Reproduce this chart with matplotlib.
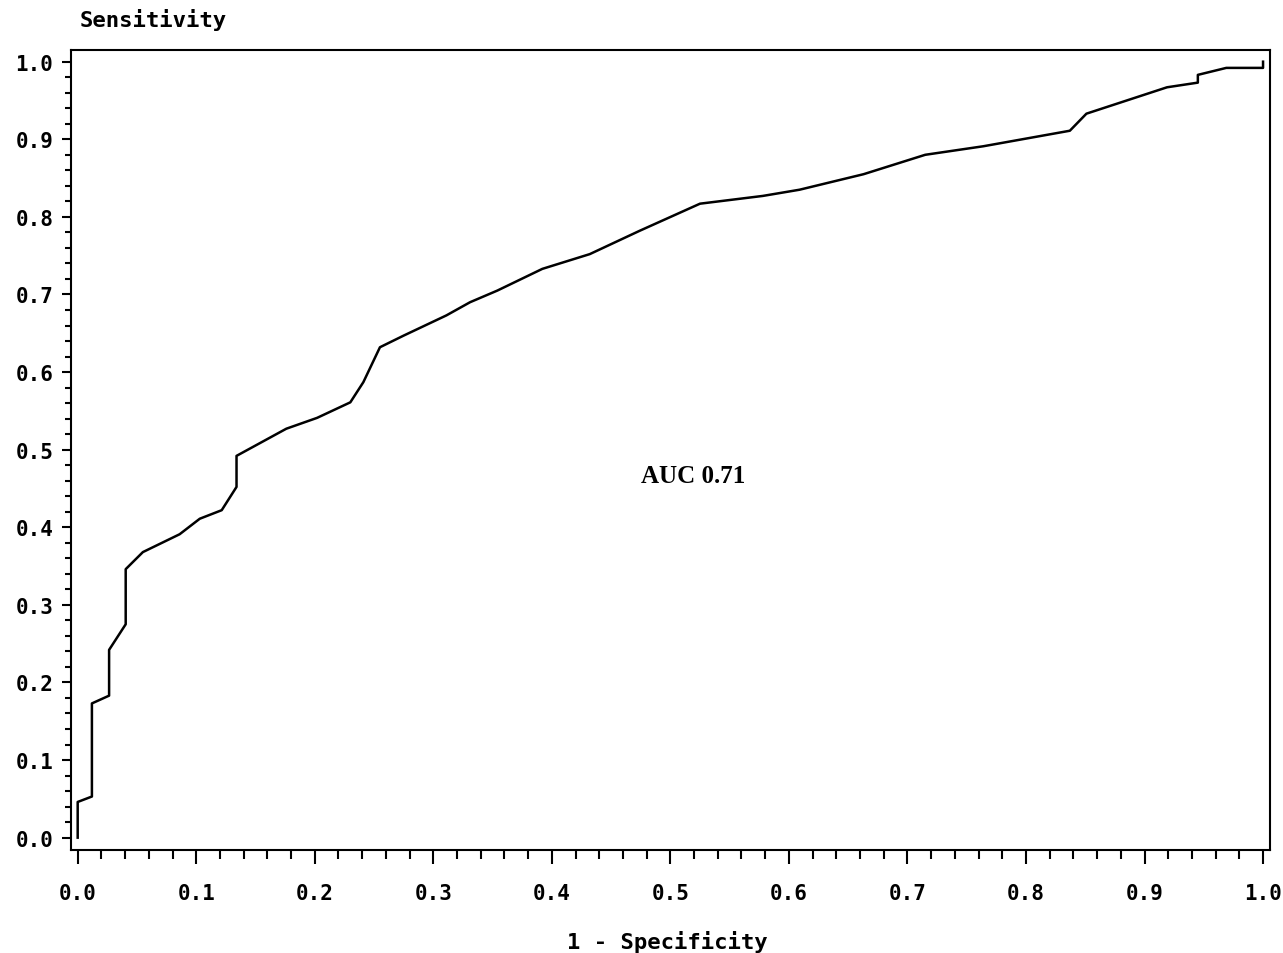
import matplotlib
matplotlib.use("Agg")
import matplotlib.pyplot as plt
from matplotlib.ticker import MultipleLocator

# ROC curve points
fpr = [0.0, 0.0, 0.012, 0.012, 0.0265, 0.0265, 0.0405, 0.0405, 0.055, 0.086,
       0.103, 0.1215, 0.134, 0.134, 0.176, 0.202, 0.23, 0.241, 0.255, 0.275,
       0.311, 0.331, 0.354, 0.392, 0.432, 0.474, 0.525, 0.578, 0.609, 0.663,
       0.715, 0.764, 0.837, 0.851, 0.919, 0.945, 0.945, 0.969, 1.0, 1.0]
tpr = [0.0, 0.046, 0.053, 0.173, 0.183, 0.242, 0.275, 0.346, 0.368, 0.391,
       0.411, 0.422, 0.452, 0.492, 0.527, 0.541, 0.561, 0.587, 0.632, 0.647,
       0.673, 0.690, 0.705, 0.733, 0.752, 0.782, 0.817, 0.827, 0.835, 0.855,
       0.880, 0.891, 0.911, 0.933, 0.967, 0.973, 0.983, 0.992, 0.992, 1.0]
tick_vals = [0.0, 0.1, 0.2, 0.3, 0.4, 0.5, 0.6, 0.7, 0.8, 0.9, 1.0]
auc_text = "AUC 0.71"

mono = {"family": "DejaVu Sans Mono", "weight": "bold", "size": 15}
mono_lab = {"family": "DejaVu Sans Mono", "weight": "bold", "size": 16}

fig = plt.figure(figsize=(12.83, 9.54), dpi=100)
ax = fig.add_axes([0.0551, 0.1083, 0.9348, 0.8382])

ax.plot(fpr, tpr, color="black", linewidth=1.8)

ax.set_xlim(-0.0059, 1.0059)
ax.set_ylim(-0.0155, 1.015)

ax.set_xticks(tick_vals)
ax.set_yticks(tick_vals)
ax.set_xticklabels(["{:.1f}".format(v) for v in tick_vals], fontdict=mono)
ax.set_yticklabels(["{:.1f}".format(v) for v in tick_vals], fontdict=mono)
ax.xaxis.set_minor_locator(MultipleLocator(0.02))
ax.yaxis.set_minor_locator(MultipleLocator(0.02))

ax.tick_params(axis="x", which="major", length=10, width=1.5, pad=14)
ax.tick_params(axis="x", which="minor", length=6.5, width=1.5)
ax.tick_params(axis="y", which="major", length=6.5, width=1.5, pad=6)
ax.tick_params(axis="y", which="minor", length=4.3, width=1.5)
for s in ax.spines.values():
    s.set_linewidth(1.5)

ax.text(0.519, 0.4665, auc_text, ha="center", va="center",
        family="Liberation Serif", weight="bold", size=18)

fig.text(80 / 1283, 1 - 20 / 954, "Sensitivity", ha="left", va="center", fontdict=mono_lab)
fig.text(667 / 1283, 1 - 942 / 954, "1 - Specificity", ha="center", va="center", fontdict=mono_lab)

fig.savefig("out.png", dpi=100, facecolor="white")
